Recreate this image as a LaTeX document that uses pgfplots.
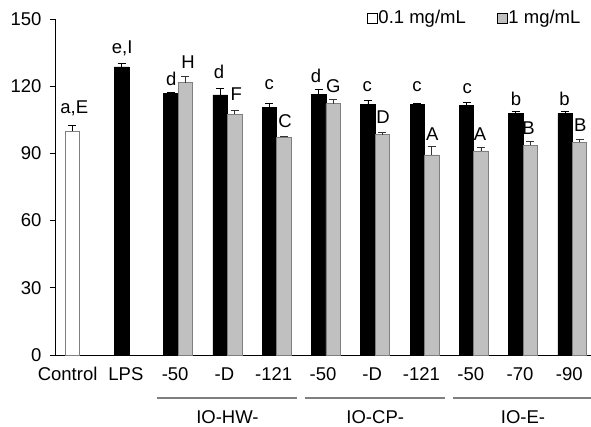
\documentclass[border=0pt]{standalone}
\usepackage{fontspec}
\setmainfont{Liberation Sans}
\usepackage{pgfplots}
\usepackage{pgfplotstable}
\pgfplotsset{compat=1.18}
\definecolor{barg}{HTML}{C0C0C0}
\definecolor{edgeg}{HTML}{7F7F7F}
\newcommand\fs{\fontsize{18.5}{22}\selectfont}

% x = category index, y = mean, e = upper error
\pgfplotstableread{
x y e
1 128.6 1.6
2 116.8 0.4
3 116.1 2.8
4 110.6 1.9
5 116.4 2.2
6 111.7 2.1
7 111.7 0.8
8 111.4 1.2
9 107.9 0.9
10 107.9 0.9
}\blackdata
\pgfplotstableread{
x y e
2 121.6 2.6
3 107.4 1.8
4 97.2 0.4
5 112.2 1.8
6 98.3 0.9
7 89.3 3.6
8 91.1 1.6
9 93.6 1.6
10 94.9 1.3
}\graydata

\begin{document}
\begin{tikzpicture}
\begin{axis}[
    name=ax,
    scale only axis,
    width=536pt, height=336pt,
    xmin=-0.5, xmax=10.38,
    ymin=0, ymax=150,
    axis lines*=left,
    axis line style={black, line width=0.8pt},
    ytick={0,30,60,90,120,150},
    xtick={0,...,10},
    xticklabels={\hspace*{-18pt}Control,LPS,-50,-D,-121,-50,-D,-121,-50,-70,-90},
    x tick style={draw=none},
    y tick style={black, line width=0.8pt},
    tick align=outside,
    major tick length=5pt,
    tick label style={font=\fs},
    xticklabel style={yshift=-4pt, xshift=-3pt},
    yticklabel style={xshift=-5pt},
    /pgf/number format/assume math mode=true,
    clip=false,
    bar width=0.294,
    legend style={draw=none, fill=none, at={(0.782,1.003)}, anchor=center,
        legend columns=2, font=\fs,
        /tikz/every even column/.append style={column sep=30pt},
        nodes={inner sep=1pt}},
    legend image code/.code={\draw[#1, line width=0.6pt] (0pt,-5pt) rectangle (10pt,5pt);},
]
\addlegendimage{fill=white, draw=black}
\addlegendentry{0.1 mg/mL}
\addlegendimage{fill=barg, draw=black}
\addlegendentry{1 mg/mL}

% control (white)
\addplot[ybar, bar shift=0pt, fill=white, draw=edgeg, line width=0.8pt,
    error bars/.cd, y dir=plus, y explicit,
    error bar style={black, line width=0.8pt},
    error mark options={rotate=90, mark size=4pt, black, line width=0.8pt}]
    coordinates {(-0.147,100.0) +- (0,2.6)};
% black series
\addplot[ybar, bar shift=0pt, fill=black, draw=black, line width=0.6pt,
    error bars/.cd, y dir=plus, y explicit,
    error bar style={black, line width=0.8pt},
    error mark options={rotate=90, mark size=4pt, black, line width=0.8pt}]
    table[x expr=\thisrow{x}-0.147, y=y, y error=e] {\blackdata};
% gray series
\addplot[ybar, bar shift=0pt, fill=barg, draw=edgeg, line width=0.8pt,
    error bars/.cd, y dir=plus, y explicit,
    error bar style={black!80, line width=0.8pt},
    error mark options={rotate=90, mark size=4pt, black!80, line width=0.8pt}]
    table[x expr=\thisrow{x}+0.147, y=y, y error=e] {\graydata};

% significance letters
\node[font=\fs] at (axis cs:-0.11,110.3) {a,E};
\node[font=\fs] at (axis cs:0.865,137.0) {e,I};
\node[font=\fs] at (axis cs:1.86,123.2) {d};
\node[font=\fs] at (axis cs:2.20,130.8) {H};
\node[font=\fs] at (axis cs:2.83,126.3) {d};
\node[font=\fs] at (axis cs:3.18,116.5) {F};
\node[font=\fs] at (axis cs:3.85,120.5) {c};
\node[font=\fs] at (axis cs:4.17,104.5) {C};
\node[font=\fs] at (axis cs:4.80,124.6) {d};
\node[font=\fs] at (axis cs:5.15,120.1) {G};
\node[font=\fs] at (axis cs:5.84,119.6) {c};
\node[font=\fs] at (axis cs:6.16,106.3) {D};
\node[font=\fs] at (axis cs:6.85,119.6) {c};
\node[font=\fs] at (axis cs:7.16,98.7) {A};
\node[font=\fs] at (axis cs:7.87,118.8) {c};
\node[font=\fs] at (axis cs:8.13,98.7) {A};
\node[font=\fs] at (axis cs:8.86,114.3) {b};
\node[font=\fs] at (axis cs:9.11,101.3) {B};
\node[font=\fs] at (axis cs:9.84,114.3) {b};
\node[font=\fs] at (axis cs:10.16,102.7) {B};

% group brackets
\draw[edgeg, line width=1.5pt] (axis cs:1.58,-19.2) -- (axis cs:4.42,-19.2);
\draw[edgeg, line width=1.5pt] (axis cs:4.58,-19.2) -- (axis cs:7.42,-19.2);
\draw[edgeg, line width=1.5pt] (axis cs:7.58,-19.2) -- (axis cs:10.38,-19.2);
\node[font=\fs] at (axis cs:3,-27.7) {IO-HW-};
\node[font=\fs] at (axis cs:6,-27.7) {IO-CP-};
\node[font=\fs] at (axis cs:9,-27.7) {IO-E-};
\end{axis}
\pgfresetboundingbox
\path[use as bounding box] ([shift={(-55pt,-72pt)}]ax.south west) rectangle ([shift={(536pt,355pt)}]ax.south west);
\end{tikzpicture}
\end{document}
